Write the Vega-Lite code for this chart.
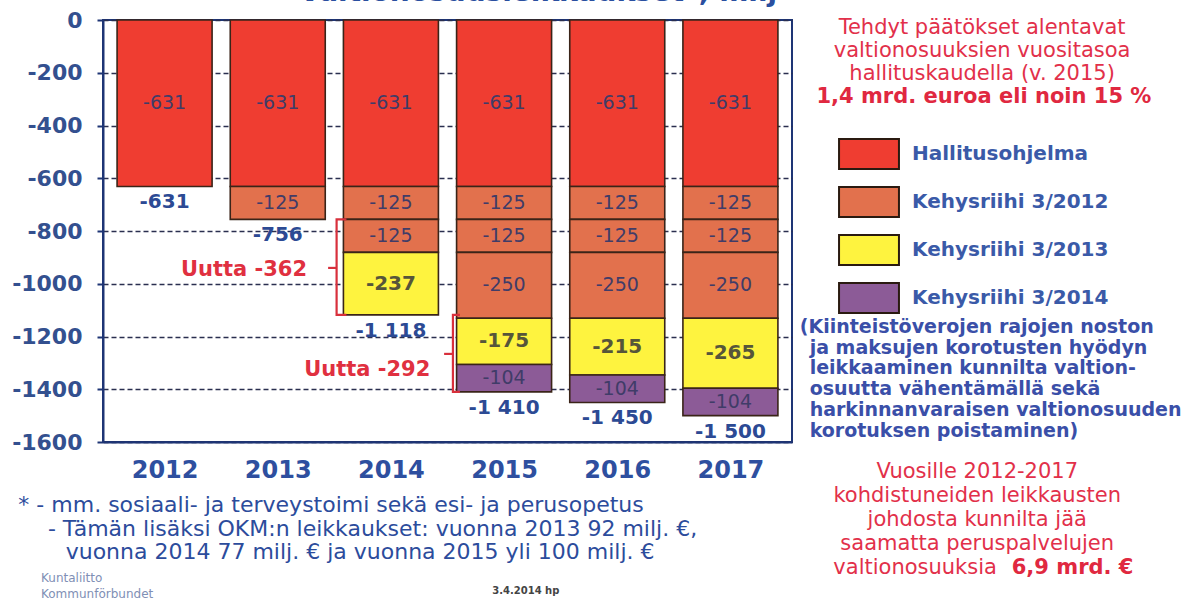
{
  "$schema": "https://vega.github.io/schema/vega-lite/v6.json",
  "width": 689,
  "height": 422,
  "autosize": {"type": "none"},
  "padding": {"left": 103, "top": 20, "right": 407, "bottom": 158},
  "background": "white",
  "config": {
    "font": "DejaVu Sans",
    "view": {"stroke": "#1e3575", "strokeWidth": 2},
    "text": {"font": "DejaVu Sans"}
  },
  "datasets": {
    "bars": [
      {"year": 2012, "series": "Hallitusohjelma", "value": -631, "o": 1},
      {"year": 2013, "series": "Hallitusohjelma", "value": -631, "o": 1},
      {"year": 2013, "series": "Kehysriihi 3/2012", "value": -125, "o": 2},
      {"year": 2014, "series": "Hallitusohjelma", "value": -631, "o": 1},
      {"year": 2014, "series": "Kehysriihi 3/2012", "value": -125, "o": 2},
      {"year": 2014, "series": "Kehysriihi 3/2012", "value": -125, "o": 3},
      {"year": 2014, "series": "Kehysriihi 3/2013", "value": -237, "o": 5},
      {"year": 2015, "series": "Hallitusohjelma", "value": -631, "o": 1},
      {"year": 2015, "series": "Kehysriihi 3/2012", "value": -125, "o": 2},
      {"year": 2015, "series": "Kehysriihi 3/2012", "value": -125, "o": 3},
      {"year": 2015, "series": "Kehysriihi 3/2012", "value": -250, "o": 4},
      {"year": 2015, "series": "Kehysriihi 3/2013", "value": -175, "o": 5},
      {"year": 2015, "series": "Kehysriihi 3/2014", "value": -104, "o": 6},
      {"year": 2016, "series": "Hallitusohjelma", "value": -631, "o": 1},
      {"year": 2016, "series": "Kehysriihi 3/2012", "value": -125, "o": 2},
      {"year": 2016, "series": "Kehysriihi 3/2012", "value": -125, "o": 3},
      {"year": 2016, "series": "Kehysriihi 3/2012", "value": -250, "o": 4},
      {"year": 2016, "series": "Kehysriihi 3/2013", "value": -215, "o": 5},
      {"year": 2016, "series": "Kehysriihi 3/2014", "value": -104, "o": 6},
      {"year": 2017, "series": "Hallitusohjelma", "value": -631, "o": 1},
      {"year": 2017, "series": "Kehysriihi 3/2012", "value": -125, "o": 2},
      {"year": 2017, "series": "Kehysriihi 3/2012", "value": -125, "o": 3},
      {"year": 2017, "series": "Kehysriihi 3/2012", "value": -250, "o": 4},
      {"year": 2017, "series": "Kehysriihi 3/2013", "value": -265, "o": 5},
      {"year": 2017, "series": "Kehysriihi 3/2014", "value": -104, "o": 6}
    ],
    "totals": [
      {"year": 2012, "total": -631, "label": "-631"},
      {"year": 2013, "total": -756, "label": "-756"},
      {"year": 2014, "total": -1118, "label": "-1 118"},
      {"year": 2015, "total": -1410, "label": "-1 410"},
      {"year": 2016, "total": -1450, "label": "-1 450"},
      {"year": 2017, "total": -1500, "label": "-1 500"}
    ],
    "notes": [
      {"grp": "title", "x": 2017.413, "y": 72, "text": "Valtionosuusleikkaukset*, milj"},
      {"grp": "redc", "x": 2019.224, "y": -30.3, "text": "Tehdyt päätökset  alentavat"},
      {"grp": "redc", "x": 2019.224, "y": -117.5, "text": "valtionosuuksien vuositasoa"},
      {"grp": "redc", "x": 2019.224, "y": -204.7, "text": "hallituskaudella (v. 2015)"},
      {"grp": "redcb", "x": 2019.24, "y": -291.9, "text": "1,4 mrd. euroa eli noin 15 %"},
      {"grp": "blue", "x": 2017.613, "y": -1164.0, "text": "(Kiinteistöverojen rajojen noston"},
      {"grp": "blue", "x": 2017.70, "y": -1243.6, "text": "ja maksujen korotusten hyödyn"},
      {"grp": "blue", "x": 2017.70, "y": -1319.4, "text": "leikkaaminen kunnilta valtion-"},
      {"grp": "blue", "x": 2017.70, "y": -1399.1, "text": "osuutta vähentämällä sekä"},
      {"grp": "blue", "x": 2017.70, "y": -1478.7, "text": "harkinnanvaraisen valtionosuuden"},
      {"grp": "blue", "x": 2017.70, "y": -1558.3, "text": "korotuksen poistaminen)"},
      {"grp": "redc", "x": 2019.181, "y": -1713.7, "text": "Vuosille 2012-2017"},
      {"grp": "redc", "x": 2019.181, "y": -1804.7, "text": "kohdistuneiden leikkausten"},
      {"grp": "redc", "x": 2019.181, "y": -1895.7, "text": "johdosta kunnilta jää"},
      {"grp": "redc", "x": 2019.181, "y": -1988.0, "text": "saamatta peruspalvelujen"},
      {"grp": "redr", "x": 2019.355, "y": -2078.0, "text": "valtionosuuksia"},
      {"grp": "redlb", "x": 2019.486, "y": -2078.0, "text": "6,9 mrd. €"},
      {"grp": "foot", "x": 2010.708, "y": -1838.9, "text": "* - mm. sosiaali- ja terveystoimi sekä esi- ja perusopetus"},
      {"grp": "foot", "x": 2010.969, "y": -1929.9, "text": "- Tämän lisäksi OKM:n leikkaukset: vuonna 2013 92 milj. €,"},
      {"grp": "foot", "x": 2011.126, "y": -2017.1, "text": "vuonna 2014 77 milj. € ja vuonna 2015 yli 100 milj. €"},
      {"grp": "logo", "x": 2010.908, "y": -2115.6, "text": "Kuntaliitto"},
      {"grp": "logo", "x": 2010.908, "y": -2176.3, "text": "Kommunförbundet"},
      {"grp": "date", "x": 2015.192, "y": -2165.0, "text": "3.4.2014 hp"},
      {"grp": "uutta", "x": 2013.259, "y": -947.9, "text": "Uutta -362"},
      {"grp": "uutta", "x": 2014.348, "y": -1327.0, "text": "Uutta -292"}
    ],
    "brackets": [
      {"seg": "a", "ord": 1, "x": 2013.607, "y": -756},
      {"seg": "a", "ord": 2, "x": 2013.52, "y": -756},
      {"seg": "a", "ord": 3, "x": 2013.52, "y": -1118},
      {"seg": "a", "ord": 4, "x": 2013.607, "y": -1118},
      {"seg": "b", "ord": 1, "x": 2013.52, "y": -940},
      {"seg": "b", "ord": 2, "x": 2013.445, "y": -940},
      {"seg": "c", "ord": 1, "x": 2014.61, "y": -1118},
      {"seg": "c", "ord": 2, "x": 2014.548, "y": -1118},
      {"seg": "c", "ord": 3, "x": 2014.548, "y": -1410},
      {"seg": "c", "ord": 4, "x": 2014.61, "y": -1410},
      {"seg": "d", "ord": 1, "x": 2014.548, "y": -1266},
      {"seg": "d", "ord": 2, "x": 2014.47, "y": -1266}
    ]
  },
  "layer": [
    {
      "data": {"name": "bars"},
      "transform": [
        {"stack": "value", "groupby": ["year"], "sort": [{"field": "o", "order": "ascending"}], "as": ["v0", "v1"]}
      ],
      "mark": {"type": "bar", "width": 95, "stroke": "#3a2418", "strokeWidth": 1.6},
      "encoding": {
        "x": {
          "field": "year", "type": "quantitative",
          "scale": {"domain": [2011.5, 2017.5], "nice": false, "zero": false},
          "axis": {
            "title": null, "values": [2012, 2013, 2014, 2015, 2016, 2017], "format": "d",
            "grid": false, "ticks": false, "labelFontSize": 24, "labelFontWeight": "bold",
            "labelColor": "#2e4f9f", "labelPadding": 16, "domainColor": "#1e3575", "domainWidth": 2,
            "labelFont": "DejaVu Sans"
          }
        },
        "y": {
          "field": "v0", "type": "quantitative",
          "scale": {"domain": [-1600, 0], "nice": false, "zero": false},
          "axis": {
            "title": null,
            "values": [0, -100, -200, -300, -400, -500, -600, -700, -800, -900, -1000, -1100, -1200, -1300, -1400, -1500, -1600],
            "labelExpr": "datum.value % 200 == 0 ? (datum.value == 0 ? '0' : '-' + abs(datum.value)) : ''",
            "labelFont": "DejaVu Sans", "labelFontSize": 22, "labelFontWeight": "bold", "labelColor": "#33508f",
            "labelPadding": 15,
            "domainColor": "#1e3575", "domainWidth": 2,
            "tickColor": "#1e3575", "tickWidth": 2,
            "tickSize": {"condition": {"test": "datum.value % 200 != 0", "value": -5}, "value": 6},
            "grid": true, "gridColor": "#2a2f4f", "gridDash": [5, 3], "gridWidth": 1.6,
            "gridOpacity": {"condition": {"test": "datum.value % 200 != 0", "value": 0}, "value": 1}
          }
        },
        "y2": {"field": "v1"},
        "color": {
          "field": "series", "type": "nominal",
          "scale": {
            "domain": ["Hallitusohjelma", "Kehysriihi 3/2012", "Kehysriihi 3/2013", "Kehysriihi 3/2014"],
            "range": ["#ef3d31", "#e2714d", "#fef33f", "#8c5b97"]
          },
          "legend": {
            "orient": "none", "legendX": 737, "legendY": 105, "title": null, "padding": 0,
            "symbolType": "M-1.07,-0.535L1.07,-0.535L1.07,0.535L-1.07,0.535Z", "symbolSize": 3136,
            "symbolStrokeColor": "#2a1a10", "symbolStrokeWidth": 2, "symbolOpacity": 1,
            "labelFont": "DejaVu Sans", "labelFontSize": 20, "labelFontWeight": "bold", "labelColor": "#3a5aa8",
            "labelOffset": 14, "rowPadding": 0, "labelLimit": 400
          }
        }
      }
    },
    {
      "data": {"name": "bars"},
      "transform": [
        {"stack": "value", "groupby": ["year"], "sort": [{"field": "o", "order": "ascending"}], "as": ["v0", "v1"]},
        {"calculate": "(datum.v0 + datum.v1) / 2", "as": "mid"},
        {"calculate": "'-' + abs(datum.value)", "as": "lbl"},
        {"filter": "datum.series != 'Kehysriihi 3/2013'"}
      ],
      "mark": {"type": "text", "fontSize": 19, "color": "#403c68", "baseline": "middle", "align": "center"},
      "encoding": {
        "x": {"field": "year", "type": "quantitative", "title": null},
        "y": {"field": "mid", "type": "quantitative", "title": null},
        "text": {"field": "lbl", "type": "nominal"}
      }
    },
    {
      "data": {"name": "bars"},
      "transform": [
        {"stack": "value", "groupby": ["year"], "sort": [{"field": "o", "order": "ascending"}], "as": ["v0", "v1"]},
        {"calculate": "(datum.v0 + datum.v1) / 2", "as": "mid"},
        {"calculate": "'-' + abs(datum.value)", "as": "lbl"},
        {"filter": "datum.series == 'Kehysriihi 3/2013'"}
      ],
      "mark": {"type": "text", "fontSize": 20, "fontWeight": "bold", "color": "#56553a", "baseline": "middle", "align": "center"},
      "encoding": {
        "x": {"field": "year", "type": "quantitative", "title": null},
        "y": {"field": "mid", "type": "quantitative", "title": null},
        "text": {"field": "lbl", "type": "nominal"}
      }
    },
    {
      "data": {"name": "totals"},
      "mark": {"type": "text", "fontSize": 20, "fontWeight": "bold", "color": "#2c4a94", "baseline": "top", "align": "center", "dy": 6},
      "encoding": {
        "x": {"field": "year", "type": "quantitative", "title": null},
        "y": {"field": "total", "type": "quantitative", "title": null},
        "text": {"field": "label", "type": "nominal"}
      }
    },
    {
      "data": {"name": "brackets"},
      "mark": {"type": "line", "color": "#d8303c", "strokeWidth": 2.2},
      "encoding": {
        "x": {"field": "x", "type": "quantitative", "title": null},
        "y": {"field": "y", "type": "quantitative", "title": null},
        "detail": {"field": "seg", "type": "nominal"},
        "order": {"field": "ord", "type": "quantitative"}
      }
    },
    {
      "data": {"name": "notes"},
      "transform": [{"filter": "datum.grp == 'title'"}],
      "mark": {"type": "text", "fontSize": 28, "fontWeight": "bold", "color": "#2a4fa0", "baseline": "alphabetic", "align": "right"},
      "encoding": {
        "x": {"field": "x", "type": "quantitative", "title": null},
        "y": {"field": "y", "type": "quantitative", "title": null},
        "text": {"field": "text", "type": "nominal"}
      }
    },
    {
      "data": {"name": "notes"},
      "transform": [{"filter": "datum.grp == 'redc'"}],
      "mark": {"type": "text", "fontSize": 21, "color": "#e2304a", "baseline": "middle", "align": "center"},
      "encoding": {
        "x": {"field": "x", "type": "quantitative", "title": null},
        "y": {"field": "y", "type": "quantitative", "title": null},
        "text": {"field": "text", "type": "nominal"}
      }
    },
    {
      "data": {"name": "notes"},
      "transform": [{"filter": "datum.grp == 'redcb'"}],
      "mark": {"type": "text", "fontSize": 21, "fontWeight": "bold", "color": "#e02840", "baseline": "middle", "align": "center"},
      "encoding": {
        "x": {"field": "x", "type": "quantitative", "title": null},
        "y": {"field": "y", "type": "quantitative", "title": null},
        "text": {"field": "text", "type": "nominal"}
      }
    },
    {
      "data": {"name": "notes"},
      "transform": [{"filter": "datum.grp == 'redr'"}],
      "mark": {"type": "text", "fontSize": 21, "color": "#e2304a", "baseline": "middle", "align": "right"},
      "encoding": {
        "x": {"field": "x", "type": "quantitative", "title": null},
        "y": {"field": "y", "type": "quantitative", "title": null},
        "text": {"field": "text", "type": "nominal"}
      }
    },
    {
      "data": {"name": "notes"},
      "transform": [{"filter": "datum.grp == 'redlb'"}],
      "mark": {"type": "text", "fontSize": 21, "fontWeight": "bold", "color": "#e02840", "baseline": "middle", "align": "left"},
      "encoding": {
        "x": {"field": "x", "type": "quantitative", "title": null},
        "y": {"field": "y", "type": "quantitative", "title": null},
        "text": {"field": "text", "type": "nominal"}
      }
    },
    {
      "data": {"name": "notes"},
      "transform": [{"filter": "datum.grp == 'blue'"}],
      "mark": {"type": "text", "fontSize": 19, "fontWeight": "bold", "color": "#3a4fa8", "baseline": "middle", "align": "left"},
      "encoding": {
        "x": {"field": "x", "type": "quantitative", "title": null},
        "y": {"field": "y", "type": "quantitative", "title": null},
        "text": {"field": "text", "type": "nominal"}
      }
    },
    {
      "data": {"name": "notes"},
      "transform": [{"filter": "datum.grp == 'foot'"}],
      "mark": {"type": "text", "fontSize": 22, "color": "#2c4c9c", "baseline": "middle", "align": "left"},
      "encoding": {
        "x": {"field": "x", "type": "quantitative", "title": null},
        "y": {"field": "y", "type": "quantitative", "title": null},
        "text": {"field": "text", "type": "nominal"}
      }
    },
    {
      "data": {"name": "notes"},
      "transform": [{"filter": "datum.grp == 'logo'"}],
      "mark": {"type": "text", "fontSize": 12, "color": "#7f8fb5", "baseline": "middle", "align": "left"},
      "encoding": {
        "x": {"field": "x", "type": "quantitative", "title": null},
        "y": {"field": "y", "type": "quantitative", "title": null},
        "text": {"field": "text", "type": "nominal"}
      }
    },
    {
      "data": {"name": "notes"},
      "transform": [{"filter": "datum.grp == 'date'"}],
      "mark": {"type": "text", "fontSize": 10, "fontWeight": "bold", "color": "#444444", "baseline": "middle", "align": "center"},
      "encoding": {
        "x": {"field": "x", "type": "quantitative", "title": null},
        "y": {"field": "y", "type": "quantitative", "title": null},
        "text": {"field": "text", "type": "nominal"}
      }
    },
    {
      "data": {"name": "notes"},
      "transform": [{"filter": "datum.grp == 'uutta'"}],
      "mark": {"type": "text", "fontSize": 21, "fontWeight": "bold", "color": "#e03040", "baseline": "middle", "align": "right"},
      "encoding": {
        "x": {"field": "x", "type": "quantitative", "title": null},
        "y": {"field": "y", "type": "quantitative", "title": null},
        "text": {"field": "text", "type": "nominal"}
      }
    }
  ]
}
